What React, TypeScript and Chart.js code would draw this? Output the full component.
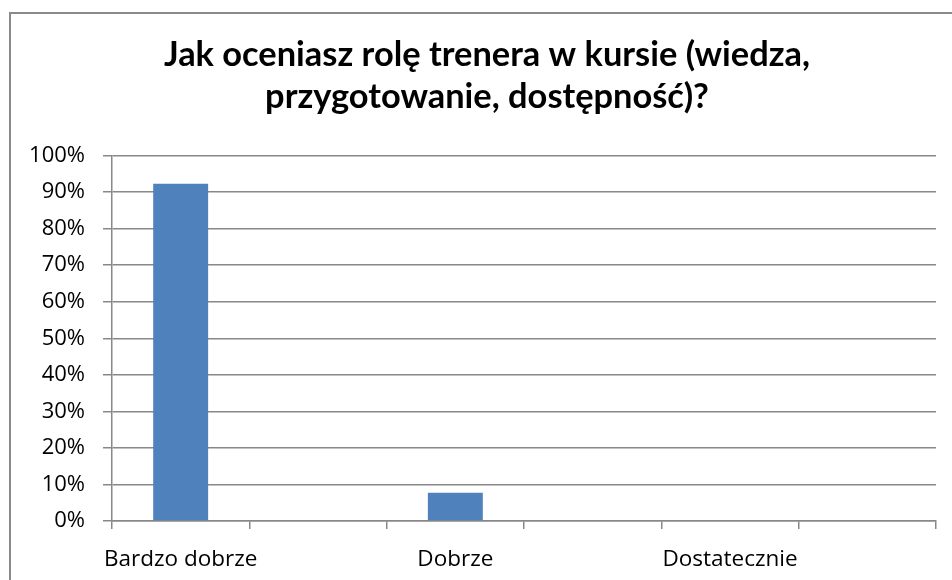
import React, { useEffect, useRef } from "react";
import { Chart, registerables } from "chart.js";

Chart.register(...registerables);

const titleLines = ["Jak oceniasz rolę trenera w kursie (wiedza,", "przygotowanie, dostępność)?"];
const categories = ["Bardzo dobrze", "", "Dobrze", "", "Dostatecznie", ""];
const values = [92.3, 0, 7.7, 0, 0, 0];
const yTicks = [0, 10, 20, 30, 40, 50, 60, 70, 80, 90, 100];

const GRID = "#888888";

const centerTitle = {
  id: "centerTitle",
  beforeDraw(chart: any) {
    if (chart.titleBlock) {
      chart.titleBlock.left = 0;
      chart.titleBlock.right = chart.width;
    }
  },
};

export default function App() {
  const ref = useRef<HTMLCanvasElement | null>(null);

  useEffect(() => {
    if (!ref.current) return;
    const chart = new Chart(ref.current, {
      type: "bar",
      data: {
        labels: categories,
        datasets: [
          {
            data: values,
            backgroundColor: "#4f81bd",
            borderWidth: 0,
            barPercentage: 0.4,
            categoryPercentage: 1,
          },
        ],
      },
      plugins: [centerTitle],
      options: {
        animation: false,
        responsive: false,
        maintainAspectRatio: false,
        layout: { padding: { left: 0, right: 29, top: 0, bottom: 0 } },
        plugins: {
          legend: { display: false },
          tooltip: { enabled: false },
          title: {
            display: true,
            text: titleLines,
            color: "#000000",
            font: { family: "Lato", weight: "bold", size: 34.4, lineHeight: 1.22 },
            padding: { top: 22, bottom: 37.6 },
          },
        },
        scales: {
          x: {
            grid: {
              display: true,
              drawOnChartArea: false,
              drawTicks: true,
              tickLength: 8,
              color: GRID,
              lineWidth: 1.5,
              offset: true,
            },
            border: { display: true, color: GRID, width: 1.5 },
            ticks: {
              autoSkip: false,
              maxRotation: 0,
              minRotation: 0,
              padding: 17,
              color: "#000000",
              font: { family: "Open Sans", size: 22.5 },
            },
            afterFit: (scale: any) => {
              scale.height = 81;
            },
          },
          y: {
            min: 0,
            max: 100,
            afterBuildTicks: (scale: any) => {
              scale.ticks = yTicks.map((v) => ({ value: v }));
            },
            grid: { color: GRID, tickLength: 9, drawTicks: true, lineWidth: 1.5 },
            border: { display: true, color: GRID, width: 1.5 },
            ticks: {
              padding: 18,
              color: "#000000",
              font: { family: "Open Sans", size: 22 },
              callback: (v: any) => v + "%",
            },
            afterFit: (scale: any) => {
              scale.width = 103;
            },
          },
        },
      },
    });
    return () => chart.destroy();
  }, []);

  return (
    <div
      style={{
        position: "fixed",
        left: 0,
        top: 0,
        width: 952,
        height: 580,
        overflow: "hidden",
        background: "#ffffff",
      }}
    >
      <canvas
        ref={ref}
        width={956}
        height={590}
        style={{ position: "absolute", left: 9, top: 12, width: 956, height: 590 }}
      />
      <div
        style={{
          position: "absolute",
          left: 9,
          top: 12,
          width: 980,
          height: 620,
          border: "2px solid #8a8a8a",
          boxSizing: "border-box",
          pointerEvents: "none",
        }}
      />
    </div>
  );
}
